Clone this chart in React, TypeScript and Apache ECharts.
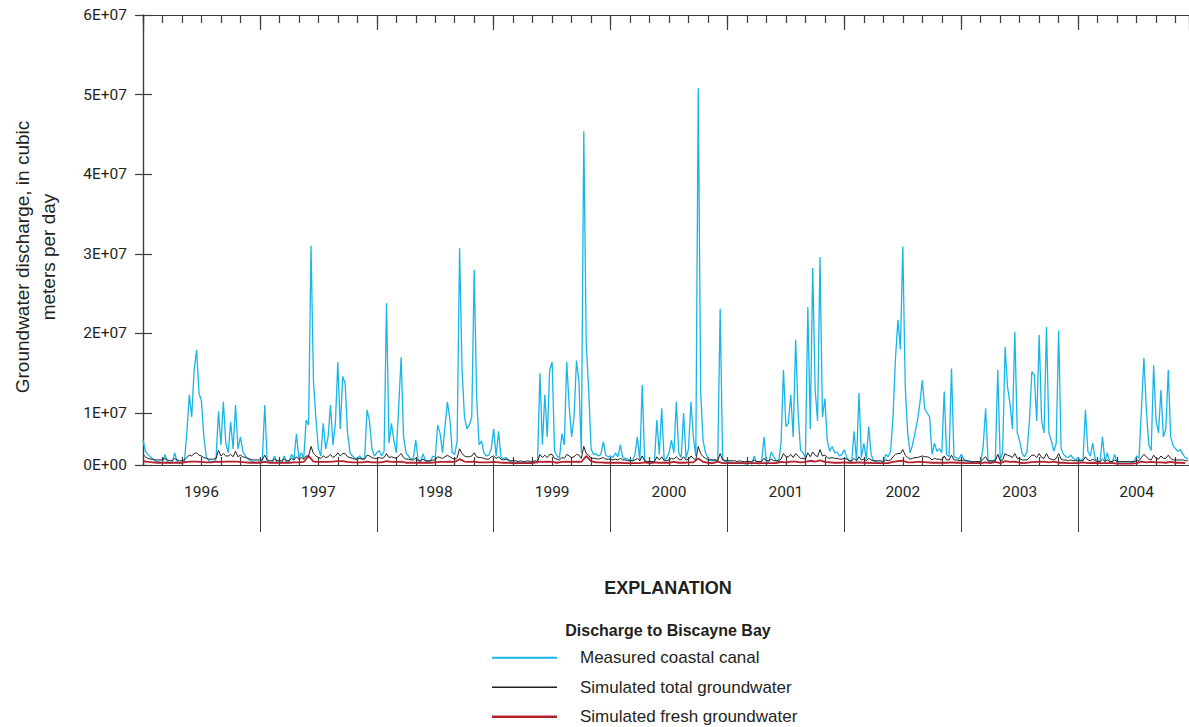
import React, { useEffect, useRef } from "react";
import * as echarts from "echarts";

// Discharge to Biscayne Bay, sampled four times a month (cubic meters per day, millions)
const CANAL_1996 = [6.6,5.2,4.8,4.5, 4.2,4.0,3.9,3.8, 3.8,4.8,3.9,3.7, 3.8,5.0,3.9,3.7, 3.7,3.9,7.5,12.3, 9.5,15.4,17.9,12.5, 11.5,7.0,4.5,4.0, 3.9,3.8,4.3,10.2, 6.0,11.4,6.2,5.0, 8.9,5.5,11.0,5.5, 7.0,5.2,4.6,4.3, 4.0,3.9,3.8,3.8];
const CANAL_1997 = [3.9,4.0,11.0,3.9, 3.8,3.8,4.6,3.8, 3.7,3.8,4.6,3.8, 3.9,4.8,4.2,7.4, 4.3,5.0,4.3,9.1, 8.5,31.0,14.0,9.3, 5.5,4.6,8.7,5.5, 7.0,11.0,6.0,8.7, 16.4,8.0,14.6,13.7, 7.5,5.0,4.6,4.3, 4.2,4.6,4.2,4.3, 10.4,9.0,5.5,4.6];
const CANAL_1998 = [5.0,5.3,4.6,5.2, 23.8,6.2,8.7,6.6, 5.0,10.8,17.0,7.0, 5.0,4.6,4.2,4.3, 6.6,4.1,3.9,4.9, 4.0,3.9,4.0,4.6, 4.4,8.5,7.4,5.0, 8.3,11.4,9.3,5.0, 4.8,6.5,30.7,15.6, 9.5,8.0,8.5,9.5, 28.0,12.0,6.0,6.5, 5.0,4.6,4.7,5.5];
const CANAL_1999 = [8.0,4.6,7.7,4.4, 4.3,4.4,4.1,3.9, 3.8,3.8,3.7,3.8, 3.7,3.7,3.8,3.7, 3.7,3.8,3.7,15.0, 6.0,12.3,7.0,15.4, 16.4,5.2,4.6,4.3, 7.4,6.0,16.4,10.8, 7.0,9.5,16.6,14.0, 5.0,45.4,18.7,13.0, 5.5,4.8,4.9,4.6, 4.8,6.4,4.7,4.5];
const CANAL_2000 = [4.6,4.4,5.0,4.5, 6.0,4.4,4.3,4.2, 4.1,4.0,4.8,7.0, 4.0,13.5,3.9,3.8, 3.7,3.7,3.8,9.1, 4.8,10.6,4.1,4.3, 5.0,6.6,5.0,11.4, 5.0,4.4,10.0,4.3, 5.5,11.4,7.0,4.6, 50.8,12.5,6.5,5.0, 4.3,4.1,4.0,4.1, 4.0,23.1,4.4,3.9];
const CANAL_2001 = [3.9,3.8,3.8,3.7, 3.7,3.8,3.7,3.6, 3.6,3.7,3.6,4.6, 3.7,3.6,3.7,7.0, 3.8,3.9,5.1,4.5, 4.0,3.9,6.2,15.4, 8.3,8.7,12.3,7.0, 19.2,10.0,5.3,5.0, 4.4,23.3,8.0,28.2, 12.9,9.0,29.6,9.5, 11.8,6.5,5.2,5.8, 5.0,5.1,4.6,4.8];
const CANAL_2002 = [5.4,4.4,4.0,3.9, 7.7,3.9,12.5,4.4, 6.2,4.2,8.3,4.8, 4.0,3.9,3.8,3.8, 3.7,4.8,4.5,5.2, 9.7,16.9,21.7,18.0, 30.9,13.3,7.5,5.0, 6.0,7.5,9.0,11.2, 14.1,10.5,10.0,9.5, 4.8,6.2,5.2,5.5, 5.0,12.7,4.8,4.5, 15.6,4.5,4.4,4.2];
const CANAL_2003 = [4.8,4.2,4.0,3.9, 3.8,3.8,3.7,3.8, 3.8,5.8,10.6,4.0, 3.9,3.9,4.2,15.4, 4.1,5.0,18.3,13.3, 11.2,8.0,20.2,7.5, 6.5,4.9,4.5,5.2, 9.0,15.2,14.8,9.0, 19.8,9.0,7.5,20.8, 7.5,6.5,5.2,6.2, 20.4,5.5,4.8,4.5, 4.4,4.7,4.3,4.1];
const CANAL_2004 = [4.4,4.0,4.2,10.4, 5.2,4.6,6.2,4.2, 4.0,3.9,7.0,3.9, 5.0,3.8,3.8,4.8, 3.8,3.7,3.7,3.7, 3.7,3.7,3.8,3.9, 4.6,4.3,10.6,16.9, 10.5,6.0,5.3,16.0, 9.0,7.5,12.9,7.0, 8.0,15.4,7.0,5.9, 5.5,5.2,5.4,4.8, 4.4,4.2];

// Simulated total groundwater discharge, four samples a month (millions)
const TOTAL_1996 = [4.8,4.5,4.3,4.2, 4.2,4.1,4.1,4.1, 4.1,4.3,4.1,4.0, 4.0,4.3,4.1,4.0, 4.0,4.1,4.4,4.7, 4.6,4.9,5.0,4.7, 4.6,4.4,4.3,4.2, 4.2,4.2,4.3,5.3, 4.6,4.9,4.6,4.6, 4.8,4.5,5.2,4.5, 4.7,4.5,4.4,4.3, 4.2,4.1,4.1,4.1];
const TOTAL_1997 = [4.1,4.1,4.7,4.1, 4.0,4.0,4.2,4.0, 4.0,4.0,4.2,4.0, 4.0,4.3,4.1,4.5, 4.2,4.4,4.2,4.6, 4.6,5.8,4.9,4.6, 4.4,4.3,4.6,4.4, 4.5,4.8,4.4,4.6, 5.0,4.6,4.9,4.9, 4.5,4.4,4.3,4.2, 4.2,4.3,4.2,4.2, 4.7,4.6,4.4,4.3];
const TOTAL_1998 = [4.3,4.4,4.3,4.4, 4.9,4.4,4.5,4.4, 4.3,4.6,4.9,4.4, 4.2,4.2,4.1,4.1, 4.3,4.0,4.0,4.2, 4.0,4.0,4.0,4.1, 4.1,4.5,4.4,4.3, 4.5,4.7,4.5,4.3, 4.2,4.4,5.5,4.9, 4.6,4.5,4.5,4.6, 5.0,4.5,4.4,4.4, 4.3,4.2,4.2,4.5];
const TOTAL_1999 = [4.6,4.3,4.5,4.2, 4.1,4.2,4.1,4.0, 4.0,4.0,3.9,4.0, 3.9,3.9,4.0,3.9, 3.9,4.0,3.9,4.8, 4.4,4.7,4.4,4.8, 4.8,4.3,4.2,4.1, 4.4,4.3,4.8,4.6, 4.4,4.5,4.8,4.7, 4.3,5.8,4.9,4.7, 4.3,4.3,4.3,4.2, 4.3,4.4,4.2,4.2];
const TOTAL_2000 = [4.2,4.1,4.2,4.1, 4.3,4.1,4.1,4.0, 4.0,4.0,4.1,4.3, 4.0,4.6,4.0,3.9, 3.9,3.9,3.9,4.5, 4.1,4.5,4.0,4.0, 4.1,4.3,4.2,4.5, 4.2,4.1,4.5,4.1, 4.2,4.6,4.3,4.1, 5.8,4.9,4.5,4.3, 4.1,4.1,4.1,4.1, 4.0,4.9,4.1,4.0];
const TOTAL_2001 = [4.0,4.0,4.0,4.0, 3.9,4.0,3.9,3.9, 3.9,3.9,3.9,4.1, 3.9,3.9,3.9,4.3, 4.0,4.0,4.2,4.0, 4.0,4.0,4.2,4.9, 4.5,4.5,4.8,4.4, 4.9,4.6,4.3,4.3, 4.2,5.0,4.5,5.1, 4.7,4.5,5.4,4.6, 4.7,4.4,4.3,4.4, 4.3,4.3,4.2,4.2];
const TOTAL_2002 = [4.3,4.2,4.0,4.0, 4.3,4.0,4.5,4.1, 4.2,4.0,4.3,4.1, 4.0,4.0,4.0,4.0, 3.9,4.1,4.0,4.1, 4.5,4.8,4.9,4.9, 5.4,4.7,4.4,4.2, 4.3,4.4,4.4,4.5, 4.6,4.5,4.5,4.4, 4.1,4.3,4.2,4.2, 4.1,4.6,4.1,4.1, 4.7,4.1,4.1,4.0];
const TOTAL_2003 = [4.1,4.0,4.0,4.0, 3.9,3.9,3.9,3.9, 3.9,4.2,4.5,4.0, 4.0,4.0,4.0,4.8, 4.0,4.1,4.9,4.7, 4.6,4.4,4.9,4.3, 4.3,4.1,4.1,4.1, 4.4,4.7,4.7,4.4, 4.9,4.4,4.3,4.9, 4.3,4.2,4.1,4.3, 4.9,4.2,4.1,4.1, 4.0,4.1,4.0,4.0];
const TOTAL_2004 = [4.0,4.0,4.0,4.5, 4.1,4.0,4.2,4.0, 3.9,3.9,4.2,3.9, 4.1,3.9,3.9,4.1, 3.9,3.9,3.9,3.9, 3.9,3.9,3.9,3.9, 4.0,4.0,4.4,4.8, 4.5,4.2,4.1,4.7, 4.3,4.2,4.6,4.3, 4.3,4.7,4.3,4.1, 4.1,4.1,4.1,4.1, 4.0,4.0];

// Simulated fresh groundwater discharge, two samples a month (millions)
const FRESH_1996 = [3.95,3.85,3.8,3.75, 3.75,3.75,3.75,3.75, 3.75,3.85,3.9,3.9, 3.85,3.8,3.8,3.9, 3.85,3.9,3.9,3.9, 3.85,3.8,3.75,3.75];
const FRESH_1997 = [3.75,3.85,3.75,3.75, 3.75,3.75,3.75,3.8, 3.8,3.85,4.6,3.9, 3.85,3.85,3.85,3.9, 3.95,3.95,3.85,3.8, 3.8,3.8,3.9,3.8];
const FRESH_1998 = [3.8,3.8,3.95,3.85, 3.85,3.9,3.75,3.75, 3.75,3.75,3.75,3.75, 3.8,3.85,3.85,3.9, 3.85,4.2,3.9,3.85, 3.9,3.8,3.8,3.8];
const FRESH_1999 = [3.85,3.8,3.75,3.75, 3.7,3.7,3.7,3.7, 3.7,3.9,3.85,3.9, 3.85,3.75,3.85,3.9, 3.85,3.9,3.85,4.6, 3.95,3.8,3.8,3.75];
const FRESH_2000 = [3.75,3.75,3.75,3.7, 3.7,3.7,3.7,3.8, 3.7,3.8,3.75,3.75, 3.75,3.85,3.75,3.75, 3.8,3.8,4.3,3.85, 3.75,3.7,3.9,3.7];
const FRESH_2001 = [3.7,3.7,3.7,3.7, 3.7,3.7,3.7,3.7, 3.7,3.7,3.7,3.85, 3.8,3.9,3.9,3.8, 3.85,4.0,3.9,4.05, 3.85,3.8,3.75,3.75];
const FRESH_2002 = [3.8,3.75,3.75,3.8, 3.75,3.75,3.7,3.7, 3.7,3.7,3.85,3.95, 4.0,3.8,3.8,3.85, 3.85,3.8,3.75,3.75, 3.75,3.75,3.8,3.75];
const FRESH_2003 = [3.75,3.7,3.7,3.7, 3.7,3.8,3.7,3.85, 3.7,3.95,3.85,3.9, 3.75,3.7,3.8,3.85, 3.85,3.9,3.8,3.9, 3.75,3.75,3.7,3.7];
const FRESH_2004 = [3.7,3.8,3.7,3.75, 3.7,3.7,3.7,3.7, 3.65,3.65,3.65,3.65, 3.7,3.9,3.8,3.85, 3.8,3.8,3.75,3.85, 3.75,3.75,3.7];

const CANAL = [CANAL_1996, CANAL_1997, CANAL_1998, CANAL_1999, CANAL_2000, CANAL_2001, CANAL_2002, CANAL_2003, CANAL_2004];
const TOTAL = [TOTAL_1996, TOTAL_1997, TOTAL_1998, TOTAL_1999, TOTAL_2000, TOTAL_2001, TOTAL_2002, TOTAL_2003, TOTAL_2004];
const FRESH = [FRESH_1996, FRESH_1997, FRESH_1998, FRESH_1999, FRESH_2000, FRESH_2001, FRESH_2002, FRESH_2003, FRESH_2004];

const FIRST_YEAR = 1996;
const YEARS = [1996, 1997, 1998, 1999, 2000, 2001, 2002, 2003, 2004];
const Y_TICKS = ["0E+00", "1E+07", "2E+07", "3E+07", "4E+07", "5E+07", "6E+07"];
const SERIES_NAMES = ["Measured coastal canal", "Simulated total groundwater", "Simulated fresh groundwater"];

// The vertical axis floor as drawn (labelled 0E+00), and its top
const Y_FLOOR = 3.467e6;
const Y_TOP = 6e7;
// x is measured in months since January 1996
const X_MAX = 107.38;

const toPairs = (years: number[][], perMonth: number) =>
  years.flatMap((vals, k) => vals.map((v, i) => [k * 12 + i / perMonth, v * 1e6]));

const INK = "#231f20";
const AXIS = "#3c3c3c";
const TICK_FONT = "Roboto, 'Liberation Sans', sans-serif";
const SANS = "'Liberation Sans', Arial, sans-serif";

export default function App() {
  const ref = useRef<HTMLDivElement>(null);

  useEffect(() => {
    if (!ref.current) return;
    const chart = echarts.init(ref.current, null, { renderer: "svg" });

    const yearSeparators = YEARS.slice(1).map((y) => (y - FIRST_YEAR) * 12);
    const yearCenters = YEARS.map((y) => (y - FIRST_YEAR) * 12 + 6);
    const yTickValues = [Y_FLOOR, 1e7, 2e7, 3e7, 4e7, 5e7, 6e7];

    const baseX = { type: "value", min: 0, max: X_MAX, gridIndex: 0, splitLine: { show: false } };
    const baseY = { type: "value", min: Y_FLOOR, max: Y_TOP, splitLine: { show: false } };

    chart.setOption({
      animation: false,
      backgroundColor: "#ffffff",
      grid: { left: 143, right: -1, top: 15, height: 450 },
      xAxis: [
        {
          ...baseX,
          position: "bottom",
          interval: 2,
          axisLine: { show: true, lineStyle: { color: AXIS, width: 1.2 } },
          axisTick: { show: true, inside: true, length: 8, lineStyle: { color: AXIS, width: 1.2 } },
          axisLabel: { show: false },
        },
        {
          ...baseX,
          position: "bottom",
          interval: 12,
          axisLine: { show: false },
          axisTick: { show: true, inside: false, length: 67, customValues: yearSeparators, lineStyle: { color: AXIS, width: 1 } },
          axisLabel: {
            show: true,
            customValues: yearCenters,
            margin: 19,
            fontFamily: TICK_FONT,
            fontSize: 15.5,
            color: INK,
            formatter: (v: number) => String(FIRST_YEAR + Math.round((v - 6) / 12)),
          },
        },
        {
          ...baseX,
          position: "top",
          interval: 2,
          axisLine: { show: true, lineStyle: { color: AXIS, width: 1.2 } },
          axisTick: { show: true, inside: true, length: 8, lineStyle: { color: AXIS, width: 1.2 } },
          axisLabel: { show: false },
        },
        {
          ...baseX,
          position: "top",
          interval: 12,
          axisLine: { show: false },
          axisTick: { show: true, inside: true, length: 15, lineStyle: { color: AXIS, width: 1.2 } },
          axisLabel: { show: false },
        },
      ],
      yAxis: [
        {
          ...baseY,
          position: "left",
          axisLine: { show: true, lineStyle: { color: AXIS, width: 1.2 } },
          axisTick: { show: true, inside: true, length: 9, customValues: yTickValues, lineStyle: { color: AXIS, width: 1.2 } },
          axisLabel: {
            margin: 16,
            customValues: yTickValues,
            fontFamily: TICK_FONT,
            fontSize: 15.5,
            color: INK,
            formatter: (v: number) => Y_TICKS[Math.round(v / 1e7)],
          },
        },
        {
          ...baseY,
          position: "right",
          axisLine: { show: true, lineStyle: { color: AXIS, width: 1.2 } },
          axisTick: { show: true, inside: true, length: 8, customValues: yTickValues, lineStyle: { color: AXIS, width: 1.2 } },
          axisLabel: { show: false },
        },
      ],
      legend: {
        orient: "vertical",
        left: 492,
        top: 643,
        height: 200,
        padding: 0,
        itemGap: 0,
        itemWidth: 65,
        itemHeight: 10,
        selectedMode: false,
        itemStyle: { borderWidth: 0 },
        textStyle: { fontFamily: SANS, fontSize: 17, color: INK, lineHeight: 29.5, padding: [0, 0, 0, 18] },
        data: [
          { name: SERIES_NAMES[0], icon: "path://M0,0L65,0M0,10L65,10M0,4H65V6H0Z" },
          { name: SERIES_NAMES[1], icon: "path://M0,0L65,0M0,10L65,10M0,4.35H65V5.65H0Z" },
          { name: SERIES_NAMES[2], icon: "path://M0,0L65,0M0,10L65,10M0,3.8H65V6.2H0Z" },
        ],
      },
      graphic: [
        {
          type: "text",
          x: 35,
          y: 257,
          rotation: Math.PI / 2,
          style: {
            text: "Groundwater discharge, in cubic\nmeters per day",
            font: `19px ${SANS}`,
            fill: INK,
            align: "center",
            verticalAlign: "middle",
            lineHeight: 26,
          },
        },
        {
          type: "text",
          x: 668,
          y: 588,
          style: { text: "EXPLANATION", font: `bold 18px ${SANS}`, fill: INK, align: "center", verticalAlign: "middle" },
        },
        {
          type: "text",
          x: 668,
          y: 630,
          style: { text: "Discharge to Biscayne Bay", font: `bold 16px ${SANS}`, fill: INK, align: "center", verticalAlign: "middle" },
        },
      ],
      series: [
        {
          name: SERIES_NAMES[0],
          type: "line",
          symbol: "none",
          color: "#18b5e8",
          lineStyle: { color: "#18b5e8", width: 1.3 },
          data: toPairs(CANAL, 4),
        },
        {
          name: SERIES_NAMES[1],
          type: "line",
          symbol: "none",
          color: INK,
          lineStyle: { color: INK, width: 1 },
          data: toPairs(TOTAL, 4),
        },
        {
          name: SERIES_NAMES[2],
          type: "line",
          symbol: "none",
          color: "#b5202e",
          lineStyle: { color: "#b5202e", width: 1.8 },
          data: toPairs(FRESH, 2),
        },
      ],
    });

    return () => chart.dispose();
  }, []);

  return <div ref={ref} style={{ position: "fixed", left: 0, top: 0, width: 1189, height: 727 }} />;
}
